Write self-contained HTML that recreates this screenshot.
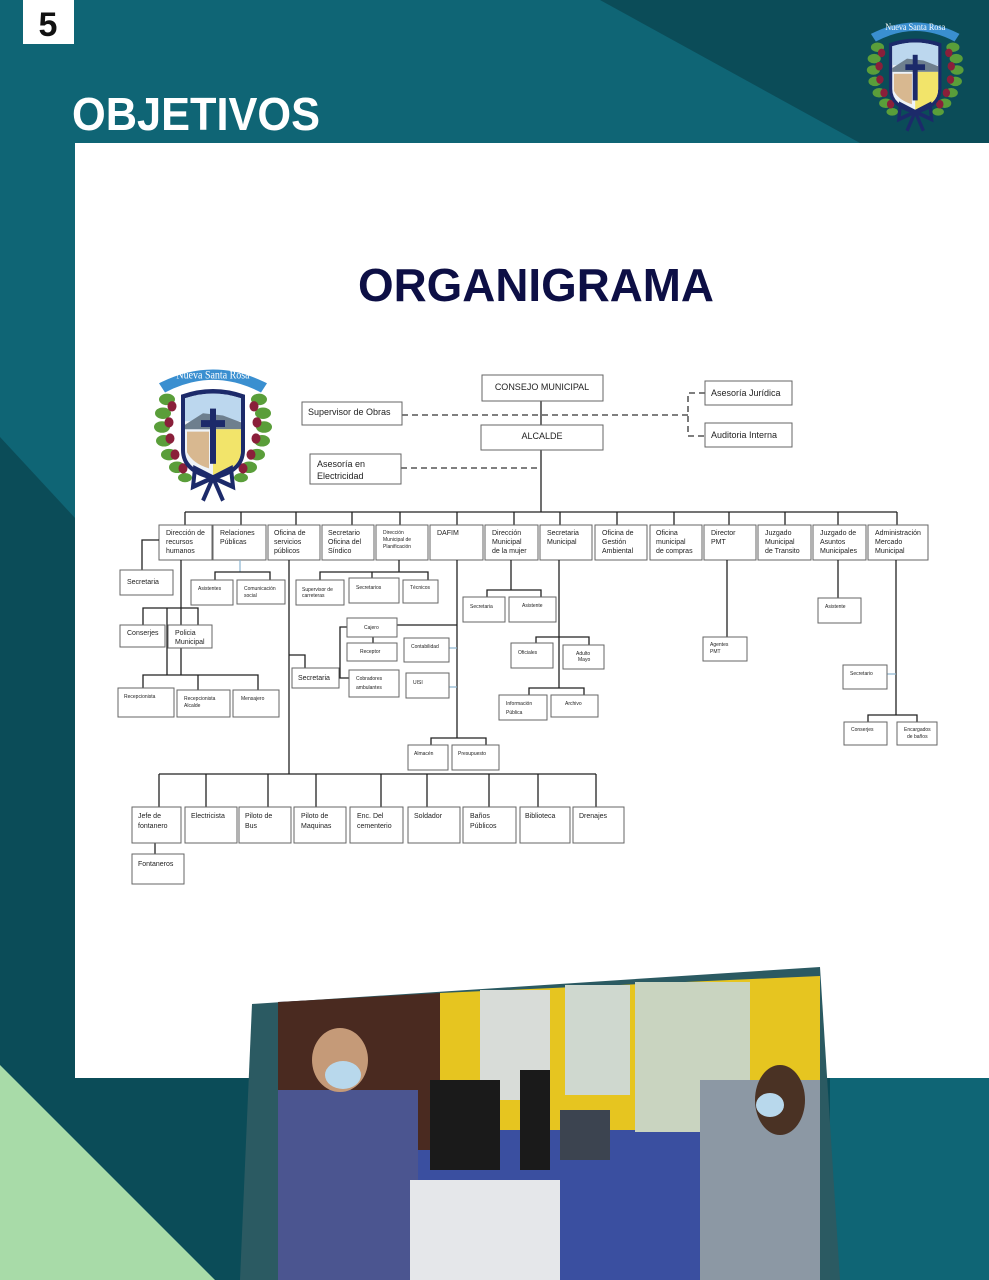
<!DOCTYPE html>
<html><head><meta charset="utf-8"><style>
html,body{margin:0;padding:0;background:#0f6575;}
svg{display:block;}
.b{fill:#fff;stroke:#666;stroke-width:1;}
.l{stroke:#222;stroke-width:1.3;fill:none;}
.bl{stroke:#8ab4d0;stroke-width:1.2;fill:none;}
.d{stroke:#333;stroke-width:1.3;fill:none;stroke-dasharray:6,4;}
text{font-family:"Liberation Sans",sans-serif;fill:#222;}
.t{font-size:7px;}
.s{font-size:5px;}
.m{font-size:9px;}
</style></head><body>
<svg width="989" height="1280" viewBox="0 0 989 1280" xmlns="http://www.w3.org/2000/svg">
<defs>
<g id="logo">
 <g fill="#5a9e3a">
  <ellipse cx="14" cy="36" rx="8" ry="5"/><ellipse cx="10" cy="48" rx="8" ry="5"/><ellipse cx="9" cy="60" rx="8" ry="5"/><ellipse cx="11" cy="72" rx="8" ry="5"/><ellipse cx="16" cy="84" rx="8" ry="5"/><ellipse cx="24" cy="95" rx="8" ry="5"/><ellipse cx="32" cy="104" rx="7" ry="4"/>
  <ellipse cx="106" cy="36" rx="8" ry="5"/><ellipse cx="110" cy="48" rx="8" ry="5"/><ellipse cx="111" cy="60" rx="8" ry="5"/><ellipse cx="109" cy="72" rx="8" ry="5"/><ellipse cx="104" cy="84" rx="8" ry="5"/><ellipse cx="96" cy="95" rx="8" ry="5"/><ellipse cx="88" cy="104" rx="7" ry="4"/>
 </g>
 <g fill="#8a1f3a">
  <circle cx="19" cy="42" r="4.5"/><circle cx="16" cy="56" r="4.5"/><circle cx="17" cy="70" r="4.5"/><circle cx="22" cy="84" r="4.5"/><circle cx="30" cy="96" r="4.5"/>
  <circle cx="101" cy="42" r="4.5"/><circle cx="104" cy="56" r="4.5"/><circle cx="103" cy="70" r="4.5"/><circle cx="98" cy="84" r="4.5"/><circle cx="90" cy="96" r="4.5"/>
 </g>
 <path d="M28 32 Q60 22 92 32 L92 80 Q92 100 60 106 Q28 100 28 80 Z" fill="#1c2a6a"/>
 <path d="M32 35 Q60 27 88 35 L88 80 Q88 97 60 102 Q32 97 32 80 Z" fill="#eef3f8"/>
 <path d="M32 35 Q60 27 88 35 L88 55 L32 55 Z" fill="#bcd7ee"/>
 <path d="M32 58 L50 48 L70 50 L88 56 L88 62 L32 62 Z" fill="#6e7f8e"/>
 <path d="M60 62 L88 62 L88 80 Q88 97 60 102 Z" fill="#f2e46a"/>
 <path d="M34 64 L56 64 L56 96 Q40 92 34 82 Z" fill="#d8b890"/>
 <rect x="57" y="44" width="6" height="48" fill="#1c2a6a"/><rect x="48" y="54" width="24" height="6" fill="#1c2a6a"/>
 <path d="M60 104 L42 96 L40 112 Z M60 104 L78 96 L80 112 Z M60 104 L50 124 M60 104 L70 124" stroke="#1c2a6a" stroke-width="4" fill="none"/>
 <path d="M6 22 Q60 -2 114 22 L108 30 Q60 8 12 30 Z" fill="#3a8fd0"/>
 <text x="60" y="18" text-anchor="middle" style="font-family:'Liberation Serif',serif;font-size:10px;fill:#fff">Nueva Santa Rosa</text>
</g>
</defs>

<rect x="0" y="0" width="989" height="1280" fill="#0f6575"/>
<polygon points="600,0 989,0 989,143 860,143" fill="#0b4c58"/>
<polygon points="0,437 75,518 75,1280 0,1280" fill="#0b4c58"/>
<rect x="0" y="1078" width="830" height="202" fill="#0b4c58"/>
<rect x="830" y="1078" width="159" height="202" fill="#0f6575"/>
<polygon points="0,1065 0,1280 215,1280" fill="#a8dba8"/>

<rect x="23" y="0" width="51" height="44" fill="#fff"/>
<text x="48" y="36" text-anchor="middle" style="font-size:34px;font-weight:bold;fill:#111">5</text>
<text x="72" y="130" textLength="248" lengthAdjust="spacingAndGlyphs" style="font-size:46px;font-weight:bold;fill:#fff">OBJETIVOS</text>
<use href="#logo" transform="translate(866,13) scale(0.82,0.95)"/>

<rect x="75" y="143" width="914" height="935" fill="#fff"/>
<text x="358" y="301" textLength="356" lengthAdjust="spacingAndGlyphs" style="font-size:46px;font-weight:bold;fill:#0d0f45">ORGANIGRAMA</text>
<use href="#logo" transform="translate(153,358) scale(1.0,1.15)"/>

<line class="l" x1="541" y1="401" x2="541" y2="512"/>
<line class="d" x1="402" y1="415" x2="688" y2="415"/>
<path class="d" d="M705 393 L688 393 L688 436 L705 436"/>
<line class="d" x1="401" y1="468" x2="541" y2="468"/>
<rect class="b" x="482" y="375" width="121" height="26"/><text class="m" x="542" y="390" text-anchor="middle">CONSEJO MUNICIPAL</text>
<rect class="b" x="481" y="425" width="122" height="25"/><text class="m" x="542" y="439" text-anchor="middle">ALCALDE</text>
<rect class="b" x="302" y="402" width="100" height="23"/><text class="m" x="308" y="415">Supervisor de Obras</text>
<rect class="b" x="310" y="454" width="91" height="30"/><text class="m" x="317" y="467">Asesoría en</text><text class="m" x="317" y="479">Electricidad</text>
<rect class="b" x="705" y="381" width="87" height="24"/><text class="m" x="711" y="396">Asesoría Jurídica</text>
<rect class="b" x="705" y="423" width="87" height="24"/><text class="m" x="711" y="438">Auditoria Interna</text>

<line class="l" x1="185" y1="512" x2="897" y2="512"/>
<g class="l">
<line x1="185" y1="512" x2="185" y2="525"/><line x1="241" y1="512" x2="241" y2="525"/><line x1="296" y1="512" x2="296" y2="525"/><line x1="352" y1="512" x2="352" y2="525"/><line x1="400" y1="512" x2="400" y2="525"/><line x1="457" y1="512" x2="457" y2="525"/><line x1="514" y1="512" x2="514" y2="525"/><line x1="560" y1="512" x2="560" y2="525"/><line x1="617" y1="512" x2="617" y2="525"/><line x1="674" y1="512" x2="674" y2="525"/><line x1="729" y1="512" x2="729" y2="525"/><line x1="785" y1="512" x2="785" y2="525"/><line x1="838" y1="512" x2="838" y2="525"/><line x1="897" y1="512" x2="897" y2="525"/>
</g>
<g>
<rect class="b" x="159" y="525" width="53" height="35"/><text class="t" x="166" y="535">Dirección de</text><text class="t" x="166" y="544">recursos</text><text class="t" x="166" y="553">humanos</text>
<rect class="b" x="213" y="525" width="53" height="35"/><text class="t" x="220" y="535">Relaciones</text><text class="t" x="220" y="544">Públicas</text>
<rect class="b" x="268" y="525" width="52" height="35"/><text class="t" x="274" y="535">Oficina de</text><text class="t" x="274" y="544">servicios</text><text class="t" x="274" y="553">públicos</text>
<rect class="b" x="322" y="525" width="52" height="35"/><text class="t" x="328" y="535">Secretario</text><text class="t" x="328" y="544">Oficina del</text><text class="t" x="328" y="553">Síndico</text>
<rect class="b" x="376" y="525" width="52" height="35"/><text class="s" x="383" y="534">Dirección</text><text class="s" x="383" y="541">Municipal de</text><text class="s" x="383" y="548">Planificación</text>
<rect class="b" x="430" y="525" width="53" height="35"/><text class="t" x="437" y="535">DAFIM</text>
<rect class="b" x="485" y="525" width="53" height="35"/><text class="t" x="492" y="535">Dirección</text><text class="t" x="492" y="544">Municipal</text><text class="t" x="492" y="553">de la mujer</text>
<rect class="b" x="540" y="525" width="52" height="35"/><text class="t" x="547" y="535">Secretaria</text><text class="t" x="547" y="544">Municipal</text>
<rect class="b" x="595" y="525" width="52" height="35"/><text class="t" x="602" y="535">Oficina de</text><text class="t" x="602" y="544">Gestión</text><text class="t" x="602" y="553">Ambiental</text>
<rect class="b" x="650" y="525" width="52" height="35"/><text class="t" x="656" y="535">Oficina</text><text class="t" x="656" y="544">municipal</text><text class="t" x="656" y="553">de compras</text>
<rect class="b" x="704" y="525" width="52" height="35"/><text class="t" x="711" y="535">Director</text><text class="t" x="711" y="544">PMT</text>
<rect class="b" x="758" y="525" width="53" height="35"/><text class="t" x="765" y="535">Juzgado</text><text class="t" x="765" y="544">Municipal</text><text class="t" x="765" y="553">de Transito</text>
<rect class="b" x="813" y="525" width="53" height="35"/><text class="t" x="820" y="535">Juzgado de</text><text class="t" x="820" y="544">Asuntos</text><text class="t" x="820" y="553">Municipales</text>
<rect class="b" x="868" y="525" width="60" height="35"/><text class="t" x="875" y="535">Administración</text><text class="t" x="875" y="544">Mercado</text><text class="t" x="875" y="553">Municipal</text>
</g>

<path class="l" d="M159 540 L142 540 L142 570"/>
<rect class="b" x="120" y="570" width="53" height="25"/><text class="t" x="127" y="584">Secretaria</text>
<line class="l" x1="181" y1="560" x2="181" y2="675"/>
<path class="l" d="M143 625 L143 608 L198 608 L198 625"/>
<line class="l" x1="167" y1="608" x2="167" y2="675"/>
<rect class="b" x="120" y="625" width="45" height="22"/><text class="t" x="127" y="635">Conserjes</text>
<rect class="b" x="168" y="625" width="44" height="23"/><text class="t" x="175" y="635">Policia</text><text class="t" x="175" y="644">Municipal</text>
<path class="l" d="M143 690 L143 675 L258 675 L258 690"/><line class="l" x1="198" y1="675" x2="198" y2="690"/>
<rect class="b" x="118" y="688" width="56" height="29"/><text class="s" x="124" y="698">Recepcionista</text>
<rect class="b" x="177" y="690" width="53" height="27"/><text class="s" x="184" y="700">Recepcionista</text><text class="s" x="184" y="707">Alcalde</text>
<rect class="b" x="233" y="690" width="46" height="27"/><text class="s" x="241" y="700">Mensajero</text>

<line class="bl" x1="240" y1="560" x2="240" y2="572"/>
<path class="l" d="M215 580 L215 572 L270 572 L270 580"/>
<rect class="b" x="191" y="580" width="42" height="25"/><text class="s" x="198" y="590">Asistentes</text>
<rect class="b" x="237" y="580" width="48" height="24"/><text class="s" x="244" y="590">Comunicación</text><text class="s" x="244" y="597">social</text>

<line class="l" x1="289" y1="560" x2="289" y2="774"/>
<path class="l" d="M289 655 L305 655 L305 668"/>
<rect class="b" x="292" y="668" width="47" height="20"/><text class="t" x="298" y="680">Secretaria</text>

<line class="l" x1="399" y1="560" x2="399" y2="572"/>
<path class="l" d="M320 580 L320 572 L428 572 L428 580"/><line class="l" x1="372" y1="572" x2="372" y2="578"/>
<rect class="b" x="296" y="580" width="48" height="25"/><text class="s" x="302" y="591">Supervisor de</text><text class="s" x="302" y="597">carreteras</text>
<rect class="b" x="349" y="578" width="50" height="25"/><text class="s" x="356" y="589">Secretarios</text>
<rect class="b" x="403" y="580" width="35" height="23"/><text class="s" x="410" y="589">Técnicos</text>

<line class="l" x1="457" y1="560" x2="457" y2="738"/>
<line class="l" x1="397" y1="625" x2="457" y2="625"/>
<line class="l" x1="373" y1="637" x2="373" y2="643"/>
<path class="l" d="M347 627 L340 627 L340 678 L349 678"/>
<rect class="b" x="347" y="618" width="50" height="19"/><text class="s" x="364" y="629">Cajero</text>
<rect class="b" x="347" y="643" width="50" height="18"/><text class="s" x="360" y="653">Receptor</text>
<rect class="b" x="349" y="670" width="50" height="27"/><text class="s" x="356" y="680">Cobradores</text><text class="s" x="356" y="689">ambulantes</text>
<line class="bl" x1="449" y1="648" x2="457" y2="648"/><line class="bl" x1="449" y1="687" x2="457" y2="687"/>
<rect class="b" x="404" y="638" width="45" height="24"/><text class="s" x="411" y="648">Contabilidad</text>
<rect class="b" x="406" y="673" width="43" height="25"/><text class="s" x="413" y="684">UISI</text>
<path class="l" d="M431 745 L431 738 L486 738 L486 745"/>
<rect class="b" x="408" y="745" width="40" height="25"/><text class="s" x="414" y="755">Almacén</text>
<rect class="b" x="452" y="745" width="47" height="25"/><text class="s" x="458" y="755">Presupuesto</text>

<line class="l" x1="511" y1="560" x2="511" y2="590"/>
<path class="l" d="M487 597 L487 590 L541 590 L541 597"/>
<rect class="b" x="463" y="597" width="42" height="25"/><text class="s" x="470" y="608">Secretaria</text>
<rect class="b" x="509" y="597" width="47" height="25"/><text class="s" x="522" y="607">Asistente</text>

<line class="l" x1="559" y1="560" x2="559" y2="688"/>
<path class="l" d="M536 643 L536 637 L589 637 L589 645"/>
<rect class="b" x="511" y="643" width="42" height="25"/><text class="s" x="518" y="654">Oficiales</text>
<rect class="b" x="563" y="645" width="41" height="24"/><text class="s" x="576" y="655">Adulto</text><text class="s" x="578" y="661">Mayo</text>
<path class="l" d="M529 695 L529 688 L584 688 L584 695"/>
<rect class="b" x="499" y="695" width="48" height="25"/><text class="s" x="506" y="705">Información</text><text class="s" x="506" y="714">Pública</text>
<rect class="b" x="551" y="695" width="47" height="22"/><text class="s" x="565" y="705">Archivo</text>

<line class="l" x1="727" y1="560" x2="727" y2="637"/>
<rect class="b" x="703" y="637" width="44" height="24"/><text class="s" x="710" y="646">Agentes</text><text class="s" x="710" y="653">PMT</text>

<line class="l" x1="838" y1="560" x2="838" y2="598"/>
<rect class="b" x="818" y="598" width="43" height="25"/><text class="s" x="825" y="608">Asistente</text>

<line class="l" x1="896" y1="560" x2="896" y2="715"/>
<line class="bl" x1="887" y1="674" x2="896" y2="674"/>
<rect class="b" x="843" y="665" width="44" height="24"/><text class="s" x="850" y="675">Secretario</text>
<path class="l" d="M868 722 L868 715 L917 715 L917 722"/>
<rect class="b" x="844" y="722" width="43" height="23"/><text class="s" x="851" y="731">Conserjes</text>
<rect class="b" x="897" y="722" width="40" height="23"/><text class="s" x="904" y="731">Encargados</text><text class="s" x="907" y="738">de baños</text>

<line class="l" x1="159" y1="774" x2="596" y2="774"/>
<g class="l">
<line x1="159" y1="774" x2="159" y2="807"/><line x1="206" y1="774" x2="206" y2="807"/><line x1="268" y1="774" x2="268" y2="807"/><line x1="316" y1="774" x2="316" y2="807"/><line x1="381" y1="774" x2="381" y2="807"/><line x1="427" y1="774" x2="427" y2="807"/><line x1="489" y1="774" x2="489" y2="807"/><line x1="538" y1="774" x2="538" y2="807"/><line x1="596" y1="774" x2="596" y2="807"/>
<line x1="155" y1="843" x2="155" y2="854"/>
</g>
<rect class="b" x="132" y="807" width="49" height="36"/><text class="t" x="138" y="818">Jefe de</text><text class="t" x="138" y="828">fontanero</text>
<rect class="b" x="185" y="807" width="52" height="36"/><text class="t" x="191" y="818">Electricista</text>
<rect class="b" x="239" y="807" width="52" height="36"/><text class="t" x="245" y="818">Piloto de</text><text class="t" x="245" y="828">Bus</text>
<rect class="b" x="294" y="807" width="52" height="36"/><text class="t" x="301" y="818">Piloto de</text><text class="t" x="301" y="828">Maquinas</text>
<rect class="b" x="350" y="807" width="53" height="36"/><text class="t" x="357" y="818">Enc. Del</text><text class="t" x="357" y="828">cementerio</text>
<rect class="b" x="408" y="807" width="52" height="36"/><text class="t" x="414" y="818">Soldador</text>
<rect class="b" x="463" y="807" width="53" height="36"/><text class="t" x="470" y="818">Baños</text><text class="t" x="470" y="828">Públicos</text>
<rect class="b" x="520" y="807" width="50" height="36"/><text class="t" x="525" y="818">Biblioteca</text>
<rect class="b" x="573" y="807" width="51" height="36"/><text class="t" x="579" y="818">Drenajes</text>
<rect class="b" x="132" y="854" width="52" height="30"/><text class="t" x="138" y="866">Fontaneros</text>

<polygon points="252,1004 820,967 840,1280 240,1280" fill="#2b5a62"/>
<polygon points="278,1002 820,976 820,1280 278,1280" fill="#3a4fa0"/>
<polygon points="278,1002 440,993 440,1150 278,1150" fill="#4a2a20"/>
<polygon points="440,993 820,976 820,1130 440,1130" fill="#e6c520"/>
<rect x="480" y="990" width="70" height="110" fill="#d8dcd8"/>
<rect x="565" y="985" width="65" height="110" fill="#cfd8cf"/>
<rect x="635" y="982" width="115" height="150" fill="#c9d4c0"/>
<rect x="278" y="1090" width="140" height="190" fill="#4b5590"/>
<ellipse cx="340" cy="1060" rx="28" ry="32" fill="#c59a78"/>
<ellipse cx="343" cy="1075" rx="18" ry="14" fill="#b8d8ec"/>
<rect x="430" y="1080" width="70" height="90" fill="#1a1a1a"/>
<rect x="520" y="1070" width="30" height="100" fill="#1a1a1a"/>
<rect x="410" y="1180" width="150" height="100" fill="#e5e7ea"/>
<rect x="560" y="1110" width="50" height="50" fill="#3c4450"/>
<rect x="700" y="1080" width="120" height="200" fill="#8c98a4"/>
<ellipse cx="780" cy="1100" rx="25" ry="35" fill="#4a3224"/>
<ellipse cx="770" cy="1105" rx="14" ry="12" fill="#b8d8ec"/>
</svg>
</body></html>
